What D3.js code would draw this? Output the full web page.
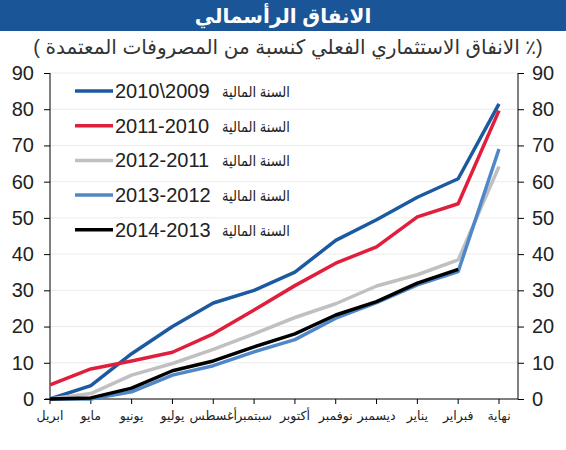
<!DOCTYPE html>
<html>
<head>
<meta charset="utf-8">
<script src="https://cdn.jsdelivr.net/npm/d3@7"></script>
<style>
  body { margin: 0; background: #fff; }
  text { font-family: 'Liberation Sans', 'DejaVu Sans', sans-serif; }
</style>
</head>
<body>
<svg class="chart" width="566" height="450"></svg>
<script>
// months, april to end of february
var months = ['ابريل', 'مايو', 'يونيو', 'يوليو', 'أغسطس', 'سبتمبر', 'أكتوبر', 'نوفمبر', 'ديسمبر', 'يناير', 'فبراير', 'نهاية']
var yTicks = [0, 10, 20, 30, 40, 50, 60, 70, 80, 90]

var seriesNames = ['2010\\2009', '2011-2010', '2012-2011', '2013-2012', '2014-2013']
var fy0910 = [0, 3.7, 12.5, 20, 26.5, 30, 35, 43.8, 49.5, 55.7, 60.8, 81.5]
var fy1011 = [3.9, 8.3, 10.5, 12.9, 18, 24.6, 31.3, 37.5, 42, 50.3, 53.9, 79.6]
var fy1112 = [0, 1.5, 6.6, 9.8, 13.7, 18, 22.5, 26.3, 31.2, 34.3, 38.4, 64.2]
var fy1213 = [0, 0, 2, 6.6, 9.2, 13, 16.4, 22.3, 26.6, 31.5, 35.2, 69]
var fy1314 = [0, 0.3, 3, 7.8, 10.5, 14.4, 18, 23.2, 26.9, 32, 35.8, null]
var colors = ['#1b5aa0', '#e01f3d', '#c0c0c0', '#4f87c9', '#000000']

var series = [fy0910, fy1011, fy1112, fy1213, fy1314]

var svg = d3.select('.chart')
var W = 566

// title bar
svg.append('rect')
  .attr('x', 0).attr('y', 0)
  .attr('width', W).attr('height', 31)
  .attr('fill', '#1a5598')

svg.append('text')
  .attr('x', W / 2).attr('y', 23)
  .attr('text-anchor', 'middle')
  .attr('fill', '#fff')
  .attr('font-weight', 'bold')
  .attr('font-size', 20)
  .attr('direction', 'rtl')
  .text('الانفاق الرأسمالي')

svg.append('text')
  .attr('x', 288).attr('y', 54)
  .attr('text-anchor', 'middle')
  .attr('fill', '#333')
  .attr('font-size', 20)
  .attr('direction', 'rtl')
  .text('(٪ الانفاق الاستثماري الفعلي كنسبة من المصروفات المعتمدة )')

var x = d3.scaleLinear().domain([0, months.length - 1]).range([50, 499])
var y = d3.scaleLinear().domain([0, 90]).range([399, 73])
var xLeft = 50, xRight = 518

// gridlines
svg.append('g')
  .selectAll('line')
  .data(yTicks.filter(d => d > 0))
  .enter()
  .append('line')
  .attr('x1', xLeft).attr('x2', xRight)
  .attr('y1', d => y(d)).attr('y2', d => y(d))
  .attr('stroke', '#ebebeb')
  .attr('stroke-width', 1)

// left axis
var leftAxis = svg.append('g')
  .attr('transform', `translate(${xLeft},0)`)
  .call(d3.axisLeft(y).tickValues(yTicks).tickSize(6).tickPadding(10))
leftAxis.select('.domain').attr('d', `M0,${y(90)}V${y(0)}`)

// right axis
var rightAxis = svg.append('g')
  .attr('transform', `translate(${xRight},0)`)
  .call(d3.axisRight(y).tickValues(yTicks).tickSize(6).tickPadding(8))
rightAxis.select('.domain').attr('d', `M0,${y(90)}V${y(0)}`)

svg.selectAll('.tick text')
  .attr('font-family', "'Liberation Sans', sans-serif")
  .attr('font-size', 20)
  .attr('fill', '#222')

// bottom axis
svg.append('line')
  .attr('x1', xLeft - 5).attr('x2', xRight)
  .attr('y1', y(0)).attr('y2', y(0))
  .attr('stroke', '#000')

svg.append('g')
  .selectAll('line')
  .data(months)
  .enter()
  .append('line')
  .attr('x1', (d, i) => x(i)).attr('x2', (d, i) => x(i))
  .attr('y1', y(0)).attr('y2', y(0) + 5)
  .attr('stroke', '#000')

svg.append('g')
  .selectAll('text')
  .data(months)
  .enter()
  .append('text')
  .attr('x', (d, i) => x(i))
  .attr('y', 420)
  .attr('text-anchor', 'middle')
  .attr('font-size', 12.5)
  .attr('fill', '#222')
  .text(d => d)

// lines
var line = d3.line()
  .defined(d => d !== null)
  .x((d, i) => x(i))
  .y(d => y(d))

svg.append('g')
  .selectAll('path')
  .data(series)
  .enter()
  .append('path')
  .attr('d', line)
  .attr('fill', 'none')
  .attr('stroke', (d, i) => colors[i])
  .attr('stroke-width', 3.5)
  .attr('stroke-linejoin', 'round')

// legend
var legend = svg.append('g')
  .selectAll('g')
  .data(seriesNames)
  .enter()
  .append('g')
  .attr('transform', (d, i) => `translate(75, ${91 + i * 34.7})`)

legend.append('line')
  .attr('x1', 0).attr('x2', 38)
  .attr('stroke', (d, i) => colors[i])
  .attr('stroke-width', 3.5)

legend.append('text')
  .attr('x', 40).attr('y', 7)
  .attr('font-size', 20)
  .attr('fill', '#222')
  .text(d => d)

legend.append('text')
  .attr('x', 147).attr('y', 6)
  .attr('font-size', 15)
  .attr('fill', '#222')
  .attr('textLength', 68)
  .attr('lengthAdjust', 'spacingAndGlyphs')
  .text('السنة المالية')
</script>
</body>
</html>
